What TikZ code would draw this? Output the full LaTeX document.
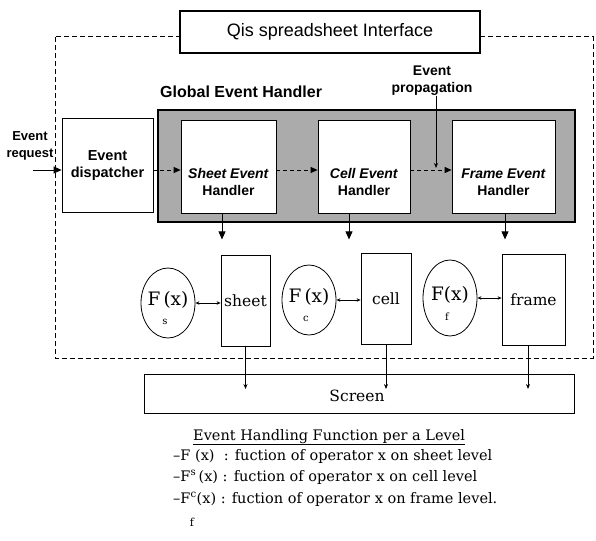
\documentclass[tikz,border=0pt]{standalone}
\usepackage{fontspec}
\setmainfont{DejaVu Serif}
\setsansfont{Liberation Sans}
\usetikzlibrary{arrows.meta,calc,shapes.geometric}
\tikzset{
  box/.style={draw, line width=0.8pt, fill=white, inner sep=0pt},
  hbox/.style={box, minimum height=93pt},
  lvl/.style={box, minimum height=91pt, font=\fontsize{15.5}{18}\selectfont},
  fn/.style={draw, ellipse, line width=0.8pt, minimum width=54pt, minimum height=70pt, inner sep=0pt},
  sanslbl/.style={font=\sffamily\bfseries\fontsize{14}{17}\selectfont, align=center, inner sep=0pt},
  fx/.style={font=\fontsize{18.5}{20}\selectfont, inner sep=0pt},
  sub/.style={font=\fontsize{10}{12}\selectfont, inner sep=0pt},
  legend/.style={font=\fontsize{14.5}{17}\selectfont, inner sep=0pt, anchor=base west},
  solidtip/.style={-{Triangle[length=8pt,width=7pt]}, line width=0.8pt},
  smalltip/.style={-{Stealth[length=5pt,width=4pt]}, line width=0.8pt},
  dbl/.style={{Stealth[length=4pt,width=3.5pt]}-{Stealth[length=4pt,width=3.5pt]}, line width=0.7pt},
  flow/.style={dash pattern=on 4pt off 3pt, line width=0.9pt, -{Triangle[length=7pt,width=6pt]}},
}
\begin{document}
\begin{tikzpicture}[x=1pt,y=-1pt]
\useasboundingbox (0,0) rectangle (596,540);

% outer interface frame with its title
\draw[dash pattern=on 5pt off 3pt, line width=1pt] (55,37) rectangle (593,358);
\node[box, line width=1.4pt, minimum width=300pt, minimum height=42pt,
      font=\sffamily\fontsize{18}{20}\selectfont] (title) at (330,32) {Qis spreadsheet Interface};

% global event handler area
\node[sanslbl, font=\sffamily\bfseries\fontsize{16}{18}\selectfont, anchor=west] (glabel) at (160,92) {Global Event Handler};
\node[draw, line width=1.6pt, fill=black!33, minimum width=417pt, minimum height=112pt, inner sep=0pt] (gray) at (366.5,166) {};

\node[box, minimum width=91pt, minimum height=94pt] (disp) at (107.5,165) {};
\node[sanslbl, font=\sffamily\bfseries\fontsize{14.5}{17}\selectfont] (dispT) at (107.5,166) {Event\\dispatcher};

\node[hbox, minimum width=95pt] (sheetH) at (228.5,166.5) {};
\node[sanslbl] (sheetT) at (228.5,182) {\textit{Sheet Event}\\Handler};
\node[hbox, minimum width=92pt] (cellH) at (364,166.5) {};
\node[sanslbl] (cellT) at (364,182) {\textit{Cell Event}\\Handler};
\node[hbox, minimum width=103pt] (frameH) at (503.5,166.5) {};
\node[sanslbl] (frameT) at (503.5,182) {\textit{Frame Event}\\Handler};

% incoming request
\node[sanslbl, font=\sffamily\bfseries\fontsize{13}{17}\selectfont] (req) at (30,146) {Event\\request};
\coordinate (reqS) at (33,170);
\draw[solidtip] (reqS) -- (reqS -| disp.west);

% propagation between handlers
\coordinate (row) at (0,170);
\draw[flow] (row -| disp.east) -- (row -| sheetH.west);
\draw[flow] (row -| sheetH.east) -- (row -| cellH.west);
\draw[flow] (row -| cellH.east) -- (row -| frameH.west);
\node[sanslbl] (prop) at (432,81) {Event\\propagation};
\coordinate (propE) at (436,168);
\draw[smalltip] (prop.south -| propE) -- (propE);

% handlers to levels
\draw[solidtip] ($(sheetH.south)+(-6.5,0)$) -- ++(0,26);
\draw[solidtip] ($(cellH.south)+(-15,0)$) -- ++(0,26);
\draw[solidtip] ($(frameH.south)+(1.5,0)$) -- ++(0,26);

% levels and their functions
\node[lvl, minimum width=49pt] (sheet) at (245.5,300.5) {sheet};
\node[lvl, minimum width=50pt] (cell) at (386,298.5) {cell};
\node[lvl, minimum width=63pt] (frame) at (533.5,299.5) {frame};

\node[fn] (fs) at (168,303) {};
\node[fx] (fsT) at (168,300) {F\,(x)};
\node[sub] (fsS) at (165,322) {s};
\node[fn] (fc) at (309,300) {};
\node[fx] (fcT) at (309,297) {F\,(x)};
\node[sub] (fcS) at (306,319) {c};
\node[fn, minimum height=76pt] (ff) at (450,298) {};
\node[fx] (ffT) at (450,295) {F(x)};
\node[sub] (ffS) at (447,317) {f};

\draw[dbl] (fs.east) -- (fs.east -| sheet.west);
\draw[dbl] (fc.east) -- (fc.east -| cell.west);
\draw[dbl] (ff.east) -- (ff.east -| frame.west);

% screen
\node[box, line width=1pt, minimum width=430pt, minimum height=39pt] (screen) at (359,393.5) {};
\node[font=\fontsize{15.5}{18}\selectfont, inner sep=0pt] (screenT) at (357,396) {Screen};
\coordinate (scrY) at (0,389);
\draw[smalltip] (sheet.south) -- (sheet.south |- scrY);
\draw[smalltip] (cell.south) -- (cell.south |- scrY);
\draw[smalltip] ($(frame.south)+(-5.5,0)$) -- ($(frame.south |- scrY)+(-5.5,0)$);

% legend
\node[legend] (lh) at (193,440) {\underline{Event Handling Function per a Level}};
\node[legend] (l1) at (173,460) {–F (x)\ \ : fuction of operator x on sheet level};
\node[legend] (l2) at (173,481) {–F\textsuperscript{s}\,(x) : fuction of operator x on cell level};
\node[legend] (l3) at (173,503) {–F\textsuperscript{c}(x) : fuction of operator x on frame level.};
\node[sub, font=\fontsize{11}{12}\selectfont] (l3f) at (192,522) {f};
\end{tikzpicture}
\end{document}
